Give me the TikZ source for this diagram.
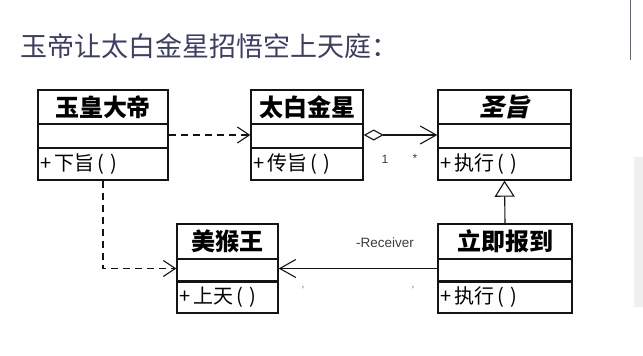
\documentclass[tikz,border=0pt]{standalone}
\usepackage{fontspec}
\usetikzlibrary{arrows.meta}
\newfontfamily\cjk{Noto Sans CJK SC}
\newfontfamily\cjkit[FakeSlant=0.22]{Noto Sans CJK SC}
\newfontfamily\lab{Liberation Sans}
\definecolor{titlecol}{RGB}{60,62,100}
\definecolor{linecol}{RGB}{20,20,20}
\definecolor{labcol}{RGB}{60,60,60}
\begin{document}
\begin{tikzpicture}[x=1pt,y=-1pt,
  umlbox/.style={draw=linecol,line width=1.4pt,fill=white,inner sep=0pt},
  hdr/.style={font=\cjk\bfseries\fontsize{24}{24}\selectfont,inner sep=0pt},
  mth/.style={font=\cjk\fontsize{20}{20}\selectfont,inner sep=0pt,anchor=west},
  conn/.style={draw=linecol,line width=1.1pt},
  dashconn/.style={conn,dash pattern=on 7pt off 5pt},
  openarr/.style={-{Straight Barb[length=12pt,width=16pt,line width=1.1pt]}},
  smalllab/.style={font=\lab\fontsize{12}{12}\selectfont,text=labcol,inner sep=0pt}
]
\useasboundingbox (0,0) rectangle (643,356);
\fill[white] (0,0) rectangle (643,356);
% right edge details
\fill[black!6] (634,157) rectangle (643,307);
\draw[titlecol!80,line width=0.8pt] (630,0) -- (630,60);
% title
\node[anchor=west,inner sep=0pt,text=titlecol,font=\cjk\fontsize{27}{27}\selectfont] (title) at (20,46) {玉帝让太白金星招悟空上天庭：};

% boxes
\node[umlbox,minimum width=130pt,minimum height=90pt] (yh) at (103,135) {};
\node[umlbox,minimum width=112pt,minimum height=90pt] (tb) at (307,135) {};
\node[umlbox,minimum width=133pt,minimum height=90pt] (sz) at (504.5,135) {};
\node[umlbox,minimum width=101pt,minimum height=89pt] (mh) at (227.5,268.5) {};
\node[umlbox,minimum width=134pt,minimum height=89pt] (lj) at (505,268.5) {};

% section lines
\foreach \b in {yh,tb,sz}{
  \draw[linecol,line width=1.4pt] (\b.west |- 0,124) -- (\b.east |- 0,124);
  \draw[linecol,line width=1.4pt] (\b.west |- 0,148) -- (\b.east |- 0,148);
}
\foreach \b in {mh,lj}{
  \draw[linecol,line width=1.4pt] (\b.west |- 0,259) -- (\b.east |- 0,259);
  \draw[linecol,line width=2.6pt] (\b.west |- 0,281.5) -- (\b.east |- 0,281.5);
}

% headers
\node[hdr] (yht) at (103,107) {玉皇大帝};
\node[hdr] (tbt) at (307,107) {太白金星};
\node[hdr,font=\cjkit\bfseries\fontsize{25}{25}\selectfont] (szt) at (504.5,107) {圣旨};
\node[hdr] (mht) at (227.5,241.5) {美猴王};
\node[hdr] (ljt) at (505,241.5) {立即报到};

% methods
\node[mth] (yhm) at (40,164) {+\,下旨\,(\;)};
\node[mth] (tbm) at (253,164) {+\,传旨\,(\;)};
\node[mth] (szm) at (440,164) {+\,执行\,(\;)};
\node[mth] (mhm) at (179,297.5) {+\,上天\,(\;)};
\node[mth] (ljm) at (440,297.5) {+\,执行\,(\;)};

% connectors
\draw[dashconn,openarr] (yh.east) -- (tb.west);
\draw[conn,{Diamond[open,length=20pt,width=11pt,line width=1.1pt,fill=white]}-{Straight Barb[length=16pt,width=18pt,line width=1.1pt]}] (tb.east) -- (sz.west);
\draw[conn,-{Triangle[open,length=16pt,width=20pt,line width=1.1pt,fill=white]}] (lj.north) -- (sz.south);
\draw[dashconn,openarr] (yh.south) |- (mh.west);
\draw[conn,-{Straight Barb[length=16pt,width=18pt,line width=1.1pt]}] (lj.west) -- (mh.east);

% labels
\node[smalllab] (m1) at (385,159) {1};
\node[smalllab] (m2) at (415,158) {*};
\node[smalllab,font=\lab\fontsize{13.5}{13.5}\selectfont] (rc) at (385,243) {-Receiver};
\node[smalllab,text=black!45] (m3) at (303,290) {'};
\node[smalllab,text=black!45] (m4) at (413,290) {'};
\end{tikzpicture}
\end{document}
